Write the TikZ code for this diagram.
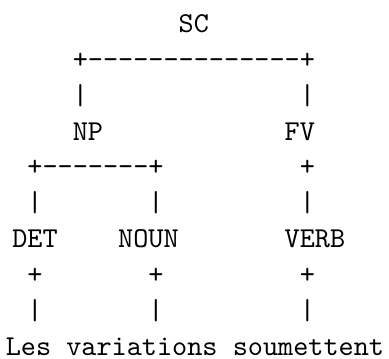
\documentclass[tikz,border=0pt]{standalone}
\usepackage{fontspec}
\newcommand{\dashrun}[1]{\foreach \i in {1,...,#1}{-}}
\begin{document}
\begin{tikzpicture}[x=0.34699pt,y=-0.34699pt,
  tok/.style={inner sep=0pt,outer sep=0pt,anchor=base west,
    font=\ttfamily\fontsize{10}{12}\selectfont}]
\useasboundingbox (0,0) rectangle (389,358);
% row 0
\node[tok] (sc) at (178.73,32.3) {SC};
% row 1
\node[tok] (scbar) at (72.82,68.2) {+\dashrun{14}+};
% row 2
\node[tok] (scl) at (72.82,104.1) {|};
\node[tok] (scr) at (299.77,104.1) {|};
% row 3
\node[tok] (np) at (72.82,140.0) {NP};
\node[tok] (fv) at (284.64,140.0) {FV};
% row 4
\node[tok] (npbar) at (27.43,175.9) {+\dashrun{7}+};
\node[tok] (fvplus) at (299.77,175.9) {+};
% row 5
\node[tok] (npl) at (27.43,211.8) {|};
\node[tok] (npr) at (148.47,211.8) {|};
\node[tok] (fvbar) at (299.77,211.8) {|};
% row 6
\node[tok] (det) at (12.3,247.7) {DET};
\node[tok] (noun) at (118.21,247.7) {NOUN};
\node[tok] (verb) at (284.64,247.7) {VERB};
% row 7
\node[tok] (detplus) at (27.43,283.6) {+};
\node[tok] (nounplus) at (148.47,283.6) {+};
\node[tok] (verbplus) at (299.77,283.6) {+};
% row 8
\node[tok] (detbar) at (27.43,319.5) {|};
\node[tok] (nounbar) at (148.47,319.5) {|};
\node[tok] (verbbar) at (299.77,319.5) {|};
% row 9
\node[tok] (les) at (5.8,355.4) {Les};
\node[tok] (variations) at (66.32,355.4) {variations};
\node[tok] (soumettent) at (232.75,355.4) {soumettent};
\end{tikzpicture}
\end{document}
